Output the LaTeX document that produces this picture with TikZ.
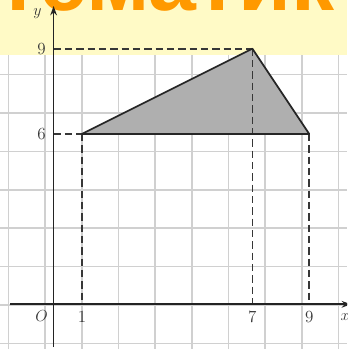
\documentclass[tikz,border=0pt]{standalone}
\usepackage{fontspec}
\newfontfamily\bannerfont{Liberation Sans}
\usetikzlibrary{arrows.meta}
\definecolor{bandyellow}{RGB}{255,250,198}
\definecolor{bannerorange}{RGB}{255,153,0}
\definecolor{gridgray}{RGB}{208,208,208}
\definecolor{axisgray}{RGB}{35,35,35}
\definecolor{fillgray}{RGB}{175,175,175}
\definecolor{labelgray}{RGB}{55,55,55}
\begin{document}
\begin{tikzpicture}[x=0.75pt,y=-0.75pt,
  gridline/.style={draw=gridgray,line width=1.2pt},
  axisline/.style={draw=axisgray,line width=1.25pt},
  guide/.style={draw=labelgray,line width=1.35pt,dash pattern=on 5.5pt off 3pt},
  tri/.style={fill=fillgray,draw=black!85,line width=1.3pt,line join=round},
  lbl/.style={text=labelgray,inner sep=0pt,font=\fontsize{12.75}{14}\selectfont}]
\useasboundingbox (0,0) rectangle (347,349);
\clip (0,0) rectangle (347,349);
\fill[white] (0,0) rectangle (347,349);
% grid
\foreach \gx in {0,...,9} \draw[gridline] ({8.3+36.7*\gx},0) -- ({8.3+36.7*\gx},349);
\foreach \gy in {-1,0,...,7} \draw[gridline] (0,{305-38.4*\gy}) -- (347,{305-38.4*\gy});
% banner
\fill[bandyellow] (0,0) rectangle (347,55);
\node[anchor=base west,inner sep=0pt,text=bannerorange,font=\bannerfont\bfseries\fontsize{64.5}{64.5}\selectfont] (banner) at (-3,11) {тематик};
% points
\coordinate (O) at (53.6,304.3);
\coordinate (A) at (82,133.9);
\coordinate (B) at (252.4,48.7);
\coordinate (C) at (309.2,133.9);
\coordinate (xs) at (10,304.3);
\coordinate (xe) at (351,304.3);
\coordinate (ys) at (53.6,347);
\coordinate (ye) at (53.6,6);
% triangle
\fill[fillgray] (A) -- (B) -- (C) -- cycle;
% guides
\draw[guide] (O |- B) -- (B);
\draw[guide] (O |- A) -- (A);
\draw[guide] (A) -- (A |- O);
\draw[guide] (B) -- (B |- O);
\draw[guide] (C) -- (C |- O);
\draw[tri,fill=none] (A) -- (B) -- (C) -- cycle;
% axes
\draw[axisline,-{Stealth[length=7pt,width=5pt]}] (xs) -- (xe);
\draw[axisline,-{Stealth[length=7pt,width=5pt]}] (ys) -- (ye);
% labels
\node[lbl] (ly) at (37.5,14) {$y$};
\node[lbl] (l9y) at (41.5,49.5) {9};
\node[lbl] (l6y) at (41.5,134.5) {6};
\node[lbl] (lO) at (41.5,316.5) {$O$};
\node[lbl] (l1x) at (82,317) {1};
\node[lbl] (l7x) at (252.4,317) {7};
\node[lbl] (l9x) at (309.2,317) {9};
\node[lbl] (lx) at (345,317) {$x$};
\end{tikzpicture}
\end{document}
